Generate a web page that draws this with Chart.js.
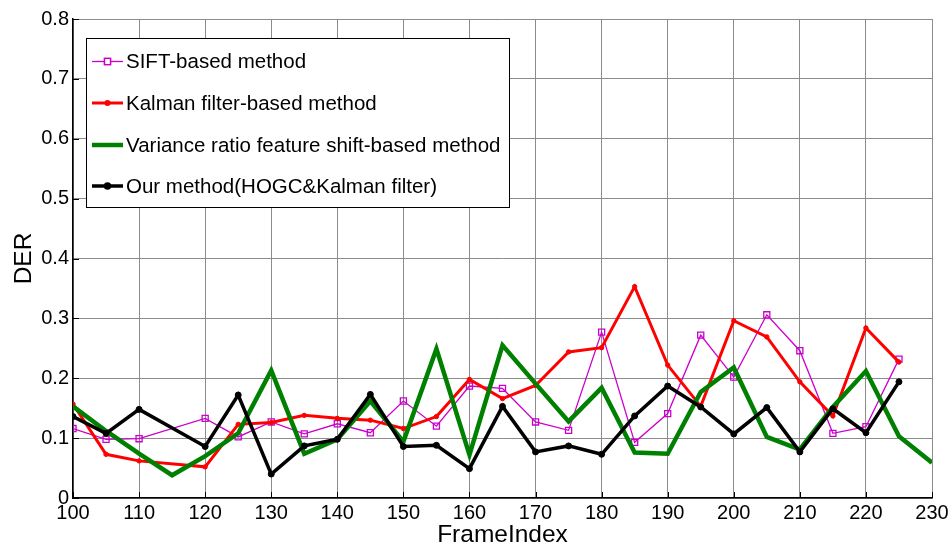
<!DOCTYPE html>
<html>
<head>
<meta charset="utf-8">
<script src="https://cdn.jsdelivr.net/npm/chart.js@4.4.1/dist/chart.umd.min.js"></script>
<style>
html,body{margin:0;padding:0;background:#fff;}
#wrap{width:952px;height:547px;}
</style>
</head>
<body>
<div id="wrap"><canvas id="c" width="952" height="547"></canvas></div>
<script>
// ---- data ----
const seriesNames = [
  "SIFT-based method",
  "Kalman filter-based method",
  "Variance ratio feature shift-based method",
  "Our method(HOGC&Kalman filter)"
];
const xTicks = [100,110,120,130,140,150,160,170,180,190,200,210,220,230];
const yTicks = [0,0.1,0.2,0.3,0.4,0.5,0.6,0.7,0.8];

const siftFrames = [100,105,110,120,125,130,135,140,145,150,155,160,165,170,175,180,185,190,195,200,205,210,215,220,225];
const siftValues = [0.116,0.098,0.099,0.133,0.102,0.127,0.107,0.124,0.109,0.162,0.120,0.187,0.183,0.127,0.113,0.277,0.093,0.141,0.272,0.202,0.306,0.246,0.108,0.119,0.232];

const kalmanFrames = [100,105,110,120,125,130,135,140,145,150,155,160,165,170,175,180,185,190,195,200,205,210,215,220,225];
const kalmanValues = [0.157,0.073,0.062,0.052,0.123,0.126,0.138,0.133,0.130,0.116,0.136,0.198,0.166,0.188,0.244,0.251,0.353,0.222,0.153,0.296,0.269,0.194,0.137,0.284,0.227];

const varianceFrames = [100,105,110,115,120,125,130,135,140,145,150,155,160,165,170,175,180,185,190,195,200,205,210,215,220,225,230];
const varianceValues = [0.153,0.112,0.074,0.038,0.070,0.108,0.213,0.074,0.098,0.162,0.094,0.249,0.072,0.255,0.191,0.128,0.184,0.076,0.074,0.177,0.218,0.102,0.081,0.152,0.212,0.103,0.059];

const oursFrames = [100,105,110,120,125,130,135,140,145,150,155,160,165,170,175,180,185,190,195,200,205,210,215,220,225];
const oursValues = [0.136,0.108,0.148,0.086,0.172,0.040,0.087,0.098,0.173,0.086,0.088,0.049,0.153,0.077,0.087,0.073,0.137,0.187,0.152,0.107,0.151,0.077,0.149,0.109,0.194];

const toXY = (xs, ys) => xs.map((x, i) => ({x: x, y: ys[i]}));

const FONT = "'Liberation Sans', Arial, sans-serif";

const insideTicks = {
  id: 'insideTicks',
  afterDatasetsDraw(chart) {
    const {ctx, chartArea: a, scales: {x, y}} = chart;
    ctx.save();
    ctx.strokeStyle = '#000';
    ctx.lineWidth = 1;
    ctx.beginPath();
    xTicks.forEach(v => {
      const px = Math.round(x.getPixelForValue(v)) + 0.5;
      ctx.moveTo(px, a.bottom); ctx.lineTo(px, a.bottom - 6);
    });
    yTicks.forEach(v => {
      const py = Math.round(y.getPixelForValue(v)) + 0.5;
      ctx.moveTo(a.left, py); ctx.lineTo(a.left + 6, py);
    });
    ctx.stroke();
    ctx.restore();
  }
};

const boxLegend = {
  id: 'boxLegend',
  afterDraw(chart) {
    const ctx = chart.ctx;
    const bx = 86.5, by = 38.5, bw = 423, bh = 169;
    ctx.save();
    ctx.fillStyle = '#fff';
    ctx.fillRect(bx, by, bw, bh);
    ctx.strokeStyle = '#000';
    ctx.lineWidth = 1;
    ctx.strokeRect(bx, by, bw, bh);
    const rows = [61.5, 103, 145, 186];
    ctx.font = "20.5px " + FONT;
    ctx.textBaseline = 'middle';
    ctx.textAlign = 'left';
    chart.data.datasets.forEach((ds, i) => {
      const yy = rows[i];
      ctx.strokeStyle = ds.borderColor;
      ctx.lineWidth = ds.borderWidth;
      ctx.beginPath();
      ctx.moveTo(92, yy); ctx.lineTo(123, yy);
      ctx.stroke();
      if (ds.pointRadius > 0) {
        Chart.helpers.drawPoint(ctx, {
          pointStyle: ds.pointStyle, rotation: 0,
          radius: ds.legendPointRadius, borderWidth: ds.pointBorderWidth
        }, 107.5, yy);
        ctx.fillStyle = ds.pointBackgroundColor;
        ctx.strokeStyle = ds.borderColor;
        ctx.lineWidth = ds.pointBorderWidth;
        if (ds.pointBackgroundColor !== 'transparent') ctx.fill();
        ctx.stroke();
      }
      ctx.fillStyle = '#000';
      ctx.fillText(ds.label, 126, yy + 1);
    });
    ctx.restore();
  }
};

new Chart(document.getElementById('c'), {
  type: 'line',
  data: {
    datasets: [
      {
        label: seriesNames[0], data: toXY(siftFrames, siftValues),
        borderColor: '#cc00cc', borderWidth: 1.3,
        pointStyle: 'rect', pointRadius: 4.3, legendPointRadius: 4.3, pointBorderWidth: 1.3,
        pointBackgroundColor: 'transparent', pointBorderColor: '#cc00cc',
        order: 4, tension: 0
      },
      {
        label: seriesNames[1], data: toXY(kalmanFrames, kalmanValues),
        borderColor: '#ff0000', borderWidth: 3,
        pointStyle: 'circle', pointRadius: 2.2, legendPointRadius: 1.5, pointBorderWidth: 1,
        pointBackgroundColor: '#ff0000', pointBorderColor: '#ff0000',
        order: 3, tension: 0
      },
      {
        label: seriesNames[2], data: toXY(varianceFrames, varianceValues),
        borderColor: '#008000', borderWidth: 4.5,
        pointRadius: 0, pointBorderWidth: 0,
        pointBackgroundColor: '#008000',
        order: 2, tension: 0
      },
      {
        label: seriesNames[3], data: toXY(oursFrames, oursValues),
        borderColor: '#000000', borderWidth: 3.5,
        pointStyle: 'circle', pointRadius: 3, legendPointRadius: 2, pointBorderWidth: 1,
        pointBackgroundColor: '#000000', pointBorderColor: '#000000',
        order: 1, tension: 0
      }
    ]
  },
  options: {
    responsive: false,
    animation: false,
    devicePixelRatio: 1,
    layout: { padding: { left: 0, right: 20, top: 19, bottom: 0 } },
    plugins: { legend: { display: false }, tooltip: { enabled: false } },
    elements: { line: { borderJoinStyle: 'miter', borderCapStyle: 'butt' } },
    scales: {
      x: {
        type: 'linear', min: 100, max: 230,
        afterBuildTicks: s => { s.ticks = xTicks.map(v => ({value: v})); },
        afterFit: s => { s.height = 49; },
        ticks: { color: '#000', font: { family: FONT, size: 20 }, padding: 3, maxRotation: 0, autoSkip: false },
        grid: { color: '#8c8c8c', lineWidth: 1, drawTicks: false },
        border: { display: true, color: '#000', width: 1.5 },
        title: { display: true, text: 'FrameIndex', color: '#000', font: { family: FONT, size: 24.5, lineHeight: 1 }, padding: { top: 0, bottom: 0 } }
      },
      y: {
        type: 'linear', min: 0, max: 0.8,
        afterBuildTicks: s => { s.ticks = yTicks.map(v => ({value: v})); },
        afterFit: s => { s.width = 73; },
        ticks: { color: '#000', font: { family: FONT, size: 20 }, padding: 4, callback: v => (v === 0 ? '0' : v.toFixed(1)) },
        grid: { color: '#8c8c8c', lineWidth: 1, drawTicks: false },
        border: { display: true, color: '#000', width: 1.5 },
        title: { display: true, text: 'DER', color: '#000', font: { family: FONT, size: 24.5, lineHeight: 1 }, padding: { top: 12, bottom: 0 } }
      }
    }
  },
  plugins: [insideTicks, boxLegend]
});
</script>
</body>
</html>
